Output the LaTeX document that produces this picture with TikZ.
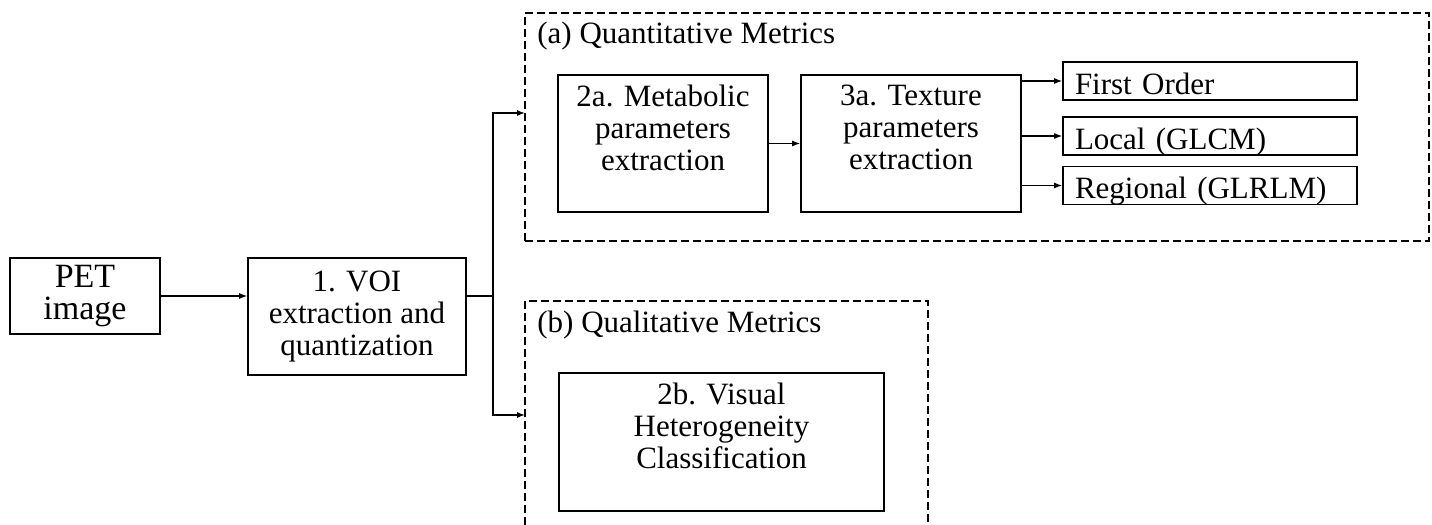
\documentclass[tikz,border=0pt]{standalone}
\usepackage{fontspec}
\setmainfont{Liberation Serif}
\usetikzlibrary{arrows.meta}
\newcommand{\tb}[3]{\parbox[c][#2][t]{#1}{\centering\vspace*{5pt}#3\par}}
\begin{document}
\begin{tikzpicture}[x=0.5pt,y=-0.5pt,
  every node/.style={font=\fontsize{15.5pt}{16pt}\selectfont},
  box/.style={draw, line width=0.8pt, inner sep=0pt, align=center},
  rbox/.style={draw, line width=0.8pt, inner ysep=0pt, inner xsep=6pt, minimum height=19pt, text width=135pt, align=left, text height=13pt, text depth=0pt},
  conn/.style={line width=0.65pt, -{Latex[length=4pt,width=3pt]}},
  plain/.style={line width=0.65pt},
  dbox/.style={draw, dash pattern=on 4pt off 2pt, line width=0.65pt}]
\fill[white] (0,0) rectangle (1432,525);
\useasboundingbox (0,0) rectangle (1432,525);

% main boxes
\node[box, minimum width=75pt, minimum height=38pt, font=\fontsize{17pt}{16pt}\selectfont] (pet) at (85,296) {PET\\image};
\node[box, minimum width=109pt, minimum height=58.5pt] (voi) at (357,316.5) {1. VOI\\extraction and\\quantization};

% (a) group
\node[dbox, minimum width=452pt, minimum height=114pt, inner sep=0pt] (qa) at (977,127) {};
\node[anchor=base west, inner sep=0pt] (qat) at (537,43) {(a) Quantitative Metrics};
\node[box] (m2a) at (663,143.5) {\tb{105pt}{68.5pt}{2a. Metabolic\\parameters\\extraction}};
\node[box] (t3a) at (911,143.5) {\tb{110pt}{68.5pt}{3a. Texture\\parameters\\extraction}};
\node[rbox] (fo) at (1210,81) {First Order};
\node[rbox] (lo) at (1210,136) {Local (GLCM)};
\node[rbox] (re) at (1210,185.5) {Regional (GLRLM)};

% (b) group
\coordinate (qbbl) at (525,525);
\coordinate (qbtr) at (928,301);
\coordinate (qbbr) at (928,525);
\draw[dbox] (qbbl) |- (qbtr) -- (qbbr);
\node[anchor=base west, inner sep=0pt] (qbt) at (537,332) {(b) Qualitative Metrics};
\node[box] (v2b) at (721.5,442) {\tb{162.5pt}{69pt}{2b. Visual\\Heterogeneity\\Classification}};

% connectors
\coordinate (j) at (493,296);
\coordinate (ina) at (525,113);
\coordinate (inb) at (525,415);
\draw[conn] (pet.east) -- (pet.east -| voi.west);
\draw[plain] (pet.east -| voi.east) -- (j);
\draw[conn] (j) |- (ina);
\draw[conn] (j) |- (inb);
\draw[conn] (m2a) -- (t3a);
\draw[conn] (t3a.east |- fo) -- (fo.west);
\draw[conn] (t3a.east |- lo) -- (lo.west);
\draw[conn] (t3a.east |- re) -- (re.west);
\end{tikzpicture}
\end{document}
